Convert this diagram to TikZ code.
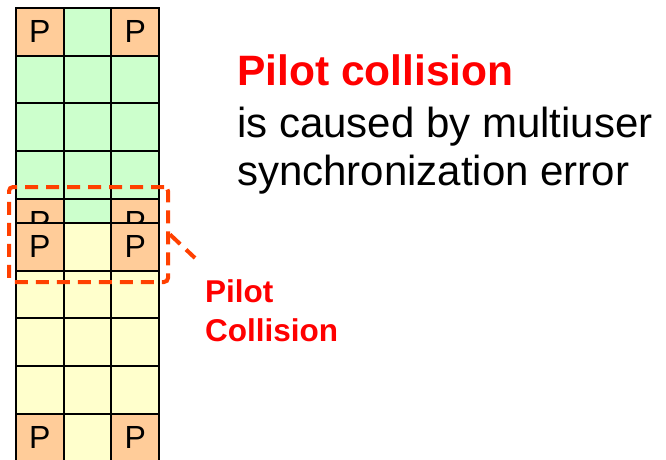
\documentclass[tikz,border=0pt]{standalone}
\usepackage{fontspec}
\setmainfont{Liberation Sans}
\usetikzlibrary{positioning}
\definecolor{pilotfill}{RGB}{255,204,153}
\definecolor{greenfill}{RGB}{204,255,204}
\definecolor{yellowfill}{RGB}{255,255,204}
\definecolor{dashred}{RGB}{255,64,0}
\definecolor{textred}{RGB}{255,0,0}

\begin{document}
\begin{tikzpicture}[x=1pt, y=-1pt,
    cell/.style={draw, line width=2pt, minimum size=47.7pt, inner sep=0pt,
      font=\fontsize{32}{32}\selectfont},
    colldash/.style={dashred, line width=4pt, dash pattern=on 13pt off 8pt},
    every node/.style={inner sep=0pt}]

    \useasboundingbox (0,0) rectangle (666,459);

    % Green frame
    \foreach \r in {0,...,4}
      \foreach \c in {0,1,2}
        \node[cell, fill=greenfill] (g\r\c) at (39.85+47.7*\c, 31.85+47.7*\r) {};
    \foreach \r in {0,4}
      \foreach \c in {0,2}
        \node[cell, fill=pilotfill] (gp\r\c) at (g\r\c) {P};

    % Yellow frame (shifted, overlaps the green one)
    \foreach \r in {0,...,4}
      \foreach \c in {0,1,2}
        \node[cell, fill=yellowfill] (y\r\c) at (39.85+47.7*\c, 246.85+47.7*\r) {};
    \foreach \r in {0,4}
      \foreach \c in {0,2}
        \node[cell, fill=pilotfill] (yp\r\c) at (y\r\c) {P};

    % Collision box and its label
    \node[draw, colldash, rounded corners=4pt, minimum width=159pt, minimum height=95pt]
      (collbox) at (88.5,234.5) {};
    \coordinate (tip) at (195,258);
    \draw[colldash, dash pattern=on 14pt off 8pt] (collbox.east) -- (tip);
    \node[anchor=base west, align=left, text=textred,
      font=\fontsize{31.5}{39}\selectfont\bfseries] (colllabel) at (205,341) {Pilot\\Collision};

    % Text
    \node[anchor=base west, text=textred, font=\fontsize{42.5}{48}\selectfont\bfseries]
      (head) at (237,85) {Pilot collision};
    \node[anchor=base west, align=left, font=\fontsize{42}{48}\selectfont]
      (body) at (237,185) {is caused by multiuser\\synchronization error};

\end{tikzpicture}
\end{document}
